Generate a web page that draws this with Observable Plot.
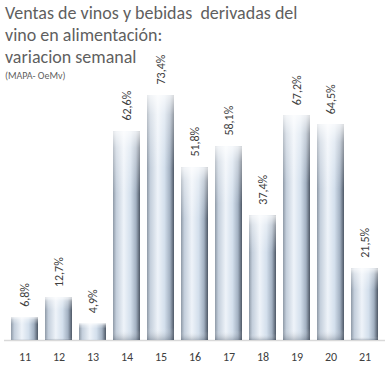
<!DOCTYPE html>
<html>
<head>
<meta charset="utf-8">
<script src="https://cdn.jsdelivr.net/npm/d3@7"></script>
<script src="https://cdn.jsdelivr.net/npm/@observablehq/plot@0.6"></script>
<style>
  html, body { margin: 0; padding: 0; background: #fff; }
  #wrap { position: relative; width: 386px; height: 380px; overflow: hidden; font-family: Carlito, Lato, "Open Sans", sans-serif; }
  #title { position: absolute; left: 5px; top: 2px; color: #5f5f5f; font-size: 18px; line-height: 22px; z-index: 2; }
  #sub { font-size: 10px; line-height: 16px; color: #5f5f5f; }
  #chart { position: absolute; left: 0; top: 0; }
</style>
</head>
<body>
<div id="wrap">
  <div id="title">Ventas de vinos y bebidas&nbsp; derivadas del<br>vino en alimentación:<br>variacion semanal<div id="sub">(MAPA- OeMv)</div></div>
  <div id="chart"></div>
</div>
<script>
const weeks = ["11","12","13","14","15","16","17","18","19","20","21"];
const values = [6.8, 12.7, 4.9, 62.6, 73.4, 51.8, 58.1, 37.4, 67.2, 64.5, 21.5];
const labels = ["6,8%","12,7%","4,9%","62,6%","73,4%","51,8%","58,1%","37,4%","67,2%","64,5%","21,5%"];

const data = weeks.map((w, i) => ({week: w, value: values[i], label: labels[i]}));

const plot = Plot.plot({
  width: 386,
  height: 380,
  marginLeft: 4,
  marginRight: 1,
  marginTop: 73,
  marginBottom: 40,
  style: {fontFamily: "Carlito, Lato, 'Open Sans', sans-serif", fontSize: "12px", color: "#404040", background: "transparent", overflow: "visible"},
  x: {domain: weeks, paddingInner: 0.22, paddingOuter: 0.1, label: null, tickSize: 0, tickPadding: 12},
  y: {domain: [0, 80], axis: null},
  marks: [
    Plot.ruleY([0], {stroke: "#d9d9d9", strokeWidth: 1.5}),
    Plot.barY(data, {x: "week", y: "value", fill: "url(#barGrad)"}),
    Plot.barY(data, {x: "week", y: "value", fill: "url(#topGrad)"}),
    Plot.text(data, {x: "week", y: "value", text: "label", rotate: -90, textAnchor: "start", dy: -11, fill: "#404040", fontSize: 12})
  ]
});

const ns = "http://www.w3.org/2000/svg";
const defs = document.createElementNS(ns, "defs");
defs.innerHTML = `
  <linearGradient id="barGrad" x1="0" y1="0" x2="1" y2="0">
    <stop offset="0" stop-color="#8e99a6"/>
    <stop offset="0.12" stop-color="#c3cedb"/>
    <stop offset="0.4" stop-color="#eef3f9"/>
    <stop offset="0.65" stop-color="#d3dfec"/>
    <stop offset="0.85" stop-color="#a3b1c2"/>
    <stop offset="1" stop-color="#4d5765"/>
  </linearGradient>
  <linearGradient id="topGrad" x1="0" y1="0" x2="0" y2="1">
    <stop offset="0" stop-color="#ffffff" stop-opacity="0.8"/>
    <stop offset="0.08" stop-color="#ffffff" stop-opacity="0.4"/>
    <stop offset="0.3" stop-color="#ffffff" stop-opacity="0"/>
    <stop offset="0.95" stop-color="#ffffff" stop-opacity="0"/>
    <stop offset="1" stop-color="#404a58" stop-opacity="0.3"/>
  </linearGradient>`;
plot.insertBefore(defs, plot.firstChild);
document.getElementById("chart").appendChild(plot);
</script>
</body>
</html>
